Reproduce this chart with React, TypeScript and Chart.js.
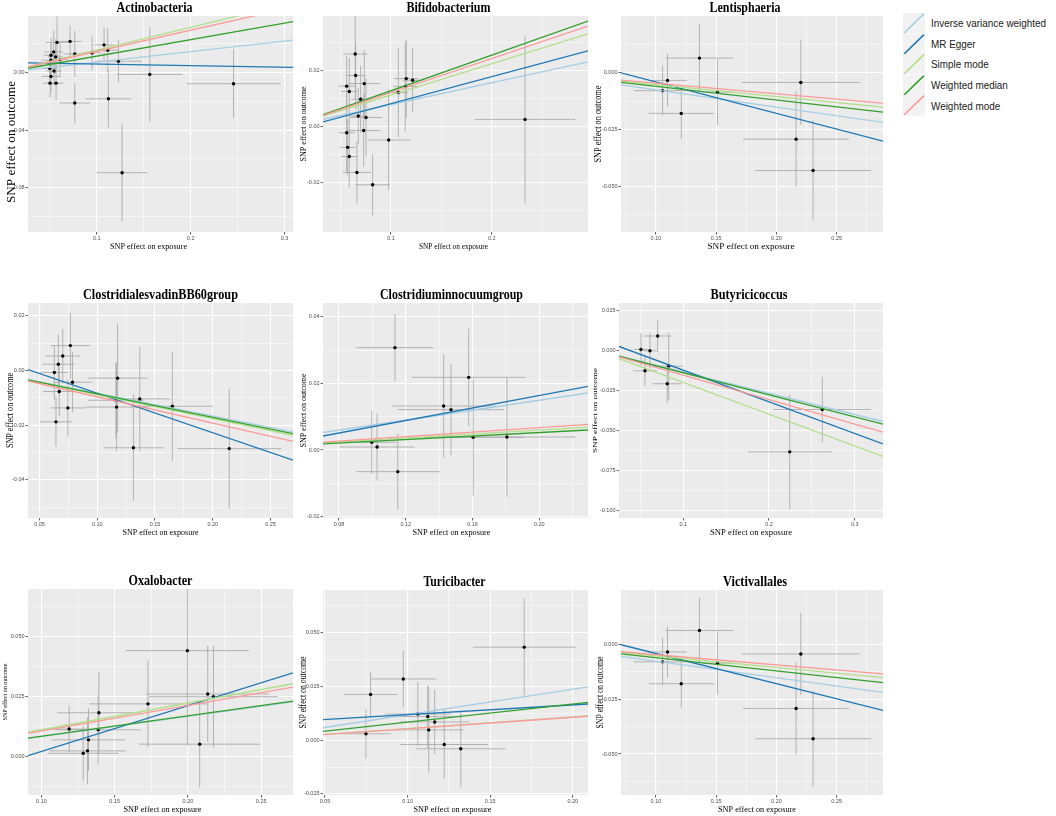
import { useEffect, useRef } from 'react';
import Chart from 'chart.js/auto';

// one row per SNP: [effect on exposure, effect on outcome, se exposure, se outcome]
type Snp = [number, number, number, number];

const methods = ['Inverse variance weighted', 'MR Egger', 'Simple mode', 'Weighted median', 'Weighted mode'];
const methodColors = ['#A6CEE3', '#1F78B4', '#B2DF8A', '#33A02C', '#FB9A99'];

const actinobacteriaSnps: Snp[] = [
    [0.0577, 0.0211, 0.012, 0.018], [0.0716, 0.0218, 0.012, 0.011], [0.0542, 0.0145, 0.010, 0.015],
    [0.0513, 0.0122, 0.008, 0.012], [0.0563, 0.0110, 0.008, 0.012], [0.0609, 0.0091, 0.008, 0.012],
    [0.0513, 0.0087, 0.010, 0.012], [0.0766, 0.0131, 0.012, 0.016], [0.0950, 0.0138, 0.010, 0.012],
    [0.1078, 0.0194, 0.010, 0.012], [0.1117, 0.0157, 0.012, 0.015], [0.1231, 0.0080, 0.025, 0.015],
    [0.0499, 0.0030, 0.008, 0.010], [0.0545, 0.0012, 0.008, 0.010], [0.0513, -0.0026, 0.010, 0.012],
    [0.0503, -0.0073, 0.008, 0.010], [0.0567, -0.0073, 0.008, 0.012], [0.1565, -0.0012, 0.035, 0.033],
    [0.0766, -0.0211, 0.016, 0.014], [0.1124, -0.0182, 0.024, 0.020], [0.2457, -0.0077, 0.050, 0.024],
    [0.1270, -0.0697, 0.027, 0.034],
];
const actinobacteriaSlopes = [0.0734, -0.011, 0.158, 0.115, 0.148];
const actinobacteriaEgger = 0.0071;

const bifidobacteriumSnps: Snp[] = [
    [0.0645, 0.0259, 0.012, 0.016], [0.0649, 0.0182, 0.010, 0.012], [0.0560, 0.0144, 0.008, 0.011],
    [0.0586, 0.0125, 0.008, 0.012], [0.0735, 0.0153, 0.016, 0.012], [0.0699, 0.0097, 0.010, 0.012],
    [0.0675, 0.0037, 0.008, 0.010], [0.0752, 0.0032, 0.016, 0.014], [0.0560, -0.0023, 0.008, 0.014],
    [0.0729, -0.0015, 0.016, 0.013], [0.0570, -0.0075, 0.008, 0.010], [0.0586, -0.0108, 0.008, 0.011],
    [0.0662, -0.0165, 0.014, 0.011], [0.0818, -0.0209, 0.017, 0.011], [0.0977, -0.0049, 0.021, 0.018],
    [0.1073, 0.0121, 0.010, 0.016], [0.1142, 0.0143, 0.012, 0.016], [0.1152, 0.0171, 0.012, 0.014],
    [0.1215, 0.0165, 0.010, 0.0116], [0.2331, 0.0025, 0.050, 0.030],
];
const bifidobacteriumSlopes = [0.0782, 0.0964, 0.112, 0.1275, 0.1213];
const bifidobacteriumEgger = -0.0015;

const lentisphaeriaSnps: Snp[] = [
    [0.1096, -0.0034, 0.016, 0.0116], [0.1055, -0.0079, 0.024, 0.011], [0.1361, 0.0064, 0.028, 0.015],
    [0.1511, -0.0085, 0.012, 0.0145], [0.1210, -0.0179, 0.027, 0.011], [0.2202, -0.0043, 0.049, 0.0187],
    [0.2163, -0.0292, 0.044, 0.021], [0.2304, -0.0430, 0.048, 0.022],
];
const lentisphaeriaSlopes = [-0.0756, -0.138, -0.0524, -0.0602, -0.0464];
const lentisphaeriaEgger = 0.0097;

const clostridialesSnps: Snp[] = [
    [0.0767, 0.0091, 0.017, 0.012], [0.0701, 0.0053, 0.015, 0.010], [0.0663, 0.0023, 0.014, 0.011],
    [0.0628, -0.0007, 0.012, 0.010], [0.0785, -0.0043, 0.017, 0.011], [0.0671, -0.0077, 0.014, 0.009],
    [0.0745, -0.0137, 0.015, 0.0105], [0.0642, -0.0188, 0.014, 0.009], [0.1176, -0.0028, 0.026, 0.020],
    [0.1161, -0.0109, 0.024, 0.014], [0.1167, -0.0134, 0.027, 0.016], [0.1368, -0.0104, 0.026, 0.019],
    [0.1650, -0.0131, 0.035, 0.020], [0.1313, -0.0283, 0.026, 0.0195], [0.2143, -0.0286, 0.045, 0.022],
];
const clostridialesSlopes = [-0.0835, -0.1445, -0.088, -0.0858, -0.0962];
const clostridialesEgger = 0.0061;

const innocuumSnps: Snp[] = [
    [0.1135, 0.0307, 0.023, 0.010], [0.1577, 0.0218, 0.034, 0.0146], [0.1427, 0.0132, 0.031, 0.0155],
    [0.1471, 0.0121, 0.032, 0.0137], [0.0996, 0.0023, 0.015, 0.0094], [0.1028, 0.0009, 0.0225, 0.010],
    [0.1604, 0.0038, 0.030, 0.0175], [0.1806, 0.0039, 0.041, 0.018], [0.1152, -0.0065, 0.025, 0.0114],
];
const innocuumSlopes = [0.0746, 0.0938, 0.030, 0.0262, 0.0336];
const innocuumEgger = -0.0024;

const butyricicoccusSnps: Snp[] = [
    [0.0506, 0.0008, 0.008, 0.010], [0.0611, 0.0000, 0.008, 0.011], [0.0701, 0.0092, 0.016, 0.010],
    [0.0553, -0.0125, 0.014, 0.0094], [0.0830, -0.0096, 0.017, 0.0208], [0.0813, -0.0206, 0.017, 0.012],
    [0.2622, -0.0367, 0.057, 0.0204], [0.2242, -0.0631, 0.049, 0.0357],
];
const butyricicoccusSlopes = [-0.1327, -0.1974, -0.198, -0.1376, -0.1526];
const butyricicoccusEgger = 0.0076;

const oxalobacterSnps: Snp[] = [
    [0.1189, 0.0115, 0.015, 0.0097], [0.1285, 0.0014, 0.024, 0.0114], [0.1314, 0.0024, 0.026, 0.0139],
    [0.1321, 0.0070, 0.025, 0.013], [0.1392, 0.0183, 0.0285, 0.017], [0.1387, 0.0112, 0.029, 0.0145],
    [0.1727, 0.0220, 0.040, 0.018], [0.1996, 0.0442, 0.042, 0.0395], [0.2135, 0.0261, 0.042, 0.020],
    [0.2174, 0.0250, 0.044, 0.0213], [0.2080, 0.0052, 0.0415, 0.018],
];
const oxalobacterSlopes = [0.084, 0.1907, 0.1119, 0.0853, 0.1067];
const oxalobacterEgger = -0.0169;

const turicibacterSnps: Snp[] = [
    [0.1706, 0.0433, 0.031, 0.0225], [0.0974, 0.0285, 0.020, 0.0132], [0.0776, 0.0213, 0.016, 0.0104],
    [0.1062, 0.0122, 0.020, 0.015], [0.1122, 0.0110, 0.020, 0.0145], [0.1164, 0.0085, 0.021, 0.015],
    [0.1128, 0.0048, 0.021, 0.020], [0.0748, 0.0030, 0.015, 0.0116], [0.1222, -0.0020, 0.0267, 0.016],
    [0.1322, -0.0040, 0.027, 0.0178],
];
const turicibacterSlopes = [0.1185, 0.0452, 0.054, 0.0843, 0.0533];
const turicibacterEgger = 0.0074;

// Victivallales shows the very same SNPs and fits as Lentisphaeria
const victivallalesSnps = lentisphaeriaSnps;
const victivallalesSlopes = lentisphaeriaSlopes;
const victivallalesEgger = lentisphaeriaEgger;

const AXIS_W = 34;
const AXIS_H = 22;
const PAD_T = 17;
const PAD_R = 4;

const panels = [
    { title: 'Actinobacteria', snps: actinobacteriaSnps, slopes: actinobacteriaSlopes, egger: actinobacteriaEgger,
      xRange: [0.0268, 0.309], yRange: [-0.111, 0.0395], xTicks: [0.1, 0.2, 0.3], yTicks: [-0.08, -0.04, 0], xDec: 1, yDec: 2,
      box: [28, 16, 293, 232], titleW: 76, titleDx: -6, xTitleW: 77, xTitleDx: -12, yTitleL: 122, yTitleF: 12.5, yTitleX: -16, yTitleDy: 18 },
    { title: 'Bifidobacterium', snps: bifidobacteriumSnps, slopes: bifidobacteriumSlopes, egger: bifidobacteriumEgger,
      xRange: [0.0325, 0.2956], yRange: [-0.0378, 0.0395], xTicks: [0.1, 0.2], yTicks: [-0.02, 0, 0.02], xDec: 1, yDec: 2,
      box: [323, 16, 588, 232], titleW: 84, titleDx: -7, xTitleW: 69, xTitleDx: -2, yTitleL: 75, yTitleF: 9, yTitleX: -19, yTitleDy: 0 },
    { title: 'Lentisphaeria', snps: lentisphaeriaSnps, slopes: lentisphaeriaSlopes, egger: lentisphaeriaEgger,
      xRange: [0.071, 0.2884], yRange: [-0.070, 0.0249], xTicks: [0.1, 0.15, 0.2, 0.25], yTicks: [-0.05, -0.025, 0], xDec: 2, yDec: 3,
      box: [621, 16, 883, 232], titleW: 71, titleDx: -7, xTitleW: 87, xTitleDx: -1, yTitleL: 77, yTitleF: 9.5, yTitleX: -23, yTitleDy: 0 },
    { title: 'ClostridialesvadinBB60group', snps: clostridialesSnps, slopes: clostridialesSlopes, egger: clostridialesEgger,
      xRange: [0.040, 0.2695], yRange: [-0.054, 0.0247], xTicks: [0.05, 0.1, 0.15, 0.2, 0.25], yTicks: [-0.04, -0.02, 0, 0.02], xDec: 2, yDec: 2,
      box: [28, 303, 293, 518], titleW: 155, titleDx: 0, xTitleW: 76, xTitleDx: 0, yTitleL: 75, yTitleF: 9.5, yTitleX: -18, yTitleDy: 0 },
    { title: 'Clostridiuminnocuumgroup', snps: innocuumSnps, slopes: innocuumSlopes, egger: innocuumEgger,
      xRange: [0.0704, 0.2292], yRange: [-0.0204, 0.0441], xTicks: [0.08, 0.12, 0.16, 0.2], yTicks: [-0.02, 0, 0.02, 0.04], xDec: 2, yDec: 2,
      box: [323, 303, 588, 518], titleW: 143, titleDx: -4, xTitleW: 78, xTitleDx: -4, yTitleL: 74, yTitleF: 8.5, yTitleX: -19, yTitleDy: 0 },
    { title: 'Butyricicoccus', snps: butyricicoccusSnps, slopes: butyricicoccusSlopes, egger: butyricicoccusEgger,
      xRange: [0.025, 0.333], yRange: [-0.1044, 0.0298], xTicks: [0.1, 0.2, 0.3], yTicks: [-0.1, -0.075, -0.05, -0.025, 0, 0.025], xDec: 1, yDec: 3,
      box: [619, 303, 883, 518], titleW: 77, titleDx: -2, xTitleW: 82, xTitleDx: 0, yTitleL: 85, yTitleF: 6.8, yTitleX: -24, yTitleDy: 0 },
    { title: 'Oxalobacter', snps: oxalobacterSnps, slopes: oxalobacterSlopes, egger: oxalobacterEgger,
      xRange: [0.0908, 0.2717], yRange: [-0.016, 0.0699], xTicks: [0.1, 0.15, 0.2, 0.25], yTicks: [0, 0.025, 0.05], xDec: 2, yDec: 3,
      box: [28, 589, 293, 795], titleW: 64, titleDx: 0, xTitleW: 78, xTitleDx: 2, yTitleL: 57, yTitleF: 7, yTitleX: -23, yTitleDy: 0 },
    { title: 'Turicibacter', snps: turicibacterSnps, slopes: turicibacterSlopes, egger: turicibacterEgger,
      xRange: [0.0488, 0.2092], yRange: [-0.0255, 0.0699], xTicks: [0.05, 0.1, 0.15, 0.2], yTicks: [-0.025, 0, 0.025, 0.05], xDec: 2, yDec: 3,
      box: [323, 590, 588, 795], titleW: 62, titleDx: -1, xTitleW: 78, xTitleDx: -3, yTitleL: 72, yTitleF: 9.5, yTitleX: -20, yTitleDy: 0 },
    { title: 'Victivallales', snps: victivallalesSnps, slopes: victivallalesSlopes, egger: victivallalesEgger,
      xRange: [0.071, 0.2884], yRange: [-0.0687, 0.0249], xTicks: [0.1, 0.15, 0.2, 0.25], yTicks: [-0.05, -0.025, 0], xDec: 2, yDec: 3,
      box: [621, 590, 883, 795], titleW: 64, titleDx: 3, xTitleW: 78, xTitleDx: 5, yTitleL: 72, yTitleF: 9.5, yTitleX: -21, yTitleDy: 0 },
];

type PanelDef = typeof panels[number];

// majors get a label, ggplot-like minor lines sit half way between
function withMinor(major: number[], min: number, max: number) {
    const step = major.length > 1 ? major[1] - major[0] : 0.1;
    const out = major.map(v => ({ value: v, minor: false }));
    for (let i = 0; i < major.length - 1; i++) out.push({ value: (major[i] + major[i + 1]) / 2, minor: true });
    const lo = major[0] - step / 2;
    const hi = major[major.length - 1] + step / 2;
    if (lo >= min) out.push({ value: lo, minor: true });
    if (hi <= max) out.push({ value: hi, minor: true });
    return out.sort((a, b) => a.value - b.value);
}

function axis(range: number[], major: number[], dec: number, isX: boolean) {
    return {
        type: 'linear',
        position: isX ? 'bottom' : 'left',
        min: range[0],
        max: range[1],
        bounds: 'data',
        afterBuildTicks: (s: any) => { s.ticks = withMinor(major, range[0], range[1]); },
        afterFit: (s: any) => {
            if (isX) s.height = AXIS_H; else s.width = AXIS_W;
            s.paddingLeft = s.paddingRight = s.paddingTop = s.paddingBottom = 0;
        },
        ticks: {
            autoSkip: false,
            maxRotation: 0,
            padding: 1,
            color: '#4D4D4D',
            font: { size: 5.5, family: '"Liberation Sans", Arial' },
            callback: (v: any, i: number, t: any[]) => (t[i].minor ? '' : Number(v).toFixed(dec)),
        },
        grid: {
            color: '#FFFFFF',
            lineWidth: (c: any) => (c.tick && c.tick.minor ? 0.5 : 1.1),
            drawTicks: true,
            tickLength: 2.5,
            tickWidth: 0.8,
            tickColor: (c: any) => (c.tick && c.tick.minor ? 'rgba(0,0,0,0)' : '#333333'),
        },
        border: { display: false },
        title: { display: false },
    };
}

function drawText(ctx: CanvasRenderingContext2D, text: string, font: string, x: number, y: number, len: number, rot: number) {
    ctx.save();
    ctx.font = font;
    ctx.fillStyle = '#000000';
    ctx.textAlign = 'center';
    ctx.textBaseline = 'middle';
    const w = ctx.measureText(text).width;
    ctx.translate(x, y);
    ctx.rotate(rot);
    ctx.scale(len / w, 1);
    ctx.fillText(text, 0, 0);
    ctx.restore();
}

function Panel({ p }: { p: PanelDef }) {
    const canvasRef = useRef<HTMLCanvasElement | null>(null);
    const [l, t, r, b] = p.box;
    const w = r - l + AXIS_W + PAD_R;
    const h = b - t + PAD_T + AXIS_H;

    useEffect(() => {
        if (!canvasRef.current) return;

        const decor = {
            id: 'decor',
            beforeDraw(chart: any) {
                const { ctx, chartArea: a } = chart;
                ctx.save();
                ctx.fillStyle = '#EBEBEB';
                ctx.fillRect(a.left, a.top, a.right - a.left, a.bottom - a.top);
                ctx.restore();
            },
            beforeDatasetsDraw(chart: any) {
                const { ctx, chartArea: a } = chart;
                const xs = chart.scales.x;
                const ys = chart.scales.y;
                ctx.save();
                ctx.beginPath();
                ctx.rect(a.left, a.top, a.right - a.left, a.bottom - a.top);
                ctx.clip();
                ctx.strokeStyle = '#ABABAB';
                ctx.lineWidth = 0.9;
                ctx.beginPath();
                for (const [bx, by, sx, sy] of p.snps) {
                    const px = xs.getPixelForValue(bx);
                    const py = ys.getPixelForValue(by);
                    ctx.moveTo(xs.getPixelForValue(bx - sx), py);
                    ctx.lineTo(xs.getPixelForValue(bx + sx), py);
                    ctx.moveTo(px, ys.getPixelForValue(by - sy));
                    ctx.lineTo(px, ys.getPixelForValue(by + sy));
                }
                ctx.stroke();
                ctx.restore();
            },
            afterDraw(chart: any) {
                const { ctx, chartArea: a } = chart;
                const cx = (a.left + a.right) / 2;
                const cy = (a.top + a.bottom) / 2;
                drawText(ctx, p.title, 'bold 14px "Liberation Serif"', cx + p.titleDx, a.top - 8, p.titleW, 0);
                drawText(ctx, 'SNP effect on exposure', '8.5px "Liberation Serif"', cx + p.xTitleDx, a.bottom + 14.5, p.xTitleW, 0);
                drawText(ctx, 'SNP effect on outcome', `${p.yTitleF}px "Liberation Serif"`, a.left + p.yTitleX, cy + p.yTitleDy, p.yTitleL, -Math.PI / 2);
            },
        };

        const lines = methods.map((m, i) => {
            const a0 = i === 1 ? p.egger : 0;
            return {
                label: m,
                data: p.xRange.map(x => ({ x, y: a0 + p.slopes[i] * x })),
                showLine: true,
                borderColor: methodColors[i],
                backgroundColor: methodColors[i],
                borderWidth: 1.3,
                pointRadius: 0,
                order: 5 - i,
                clip: 0,
            };
        });

        const chart = new Chart(canvasRef.current, {
            type: 'scatter',
            data: {
                datasets: [
                    ...lines,
                    {
                        label: 'SNP',
                        data: p.snps.map(s => ({ x: s[0], y: s[1] })),
                        backgroundColor: '#000000',
                        borderColor: '#000000',
                        borderWidth: 0,
                        pointRadius: 1.7,
                        order: 10,
                    },
                ],
            },
            options: {
                responsive: false,
                animation: false,
                events: [],
                layout: { padding: { top: PAD_T, right: PAD_R, left: 0, bottom: 0 } },
                plugins: { legend: { display: false }, tooltip: { enabled: false }, title: { display: false } },
                scales: {
                    x: axis(p.xRange, p.xTicks, p.xDec, true),
                    y: axis(p.yRange, p.yTicks, p.yDec, false),
                } as any,
            },
            plugins: [decor],
        } as any);
        return () => chart.destroy();
    }, [p]);

    return (
        <canvas
            ref={canvasRef}
            width={w}
            height={h}
            style={{ position: 'absolute', left: l - AXIS_W, top: t - PAD_T }}
        />
    );
}

function Legend() {
    return (
        <div style={{ position: 'absolute', left: 903, top: 13 }}>
            {methods.map((m, i) => (
                <div key={m} style={{ display: 'flex', alignItems: 'center', height: 20.6 }}>
                    <svg width={22} height={20.6} style={{ display: 'block' }}>
                        <rect width={22} height={20.6} fill="#F2F2F2" />
                        <line x1={1} y1={20} x2={21} y2={0.6} stroke={methodColors[i]} strokeWidth={1.6} />
                    </svg>
                    <span style={{
                        marginLeft: 6, fontFamily: '"Liberation Sans", Arial', fontSize: 11, color: '#1A1A1A',
                        whiteSpace: 'nowrap', display: 'inline-block', transform: 'scaleX(0.9)', transformOrigin: 'left center',
                    }}>{m}</span>
                </div>
            ))}
        </div>
    );
}

export default function App() {
    return (
        <div style={{ position: 'absolute', left: 0, top: 0, width: 1056, height: 816, background: '#FFFFFF', overflow: 'hidden' }}>
            {panels.map(p => <Panel key={p.title} p={p} />)}
            <Legend />
        </div>
    );
}
